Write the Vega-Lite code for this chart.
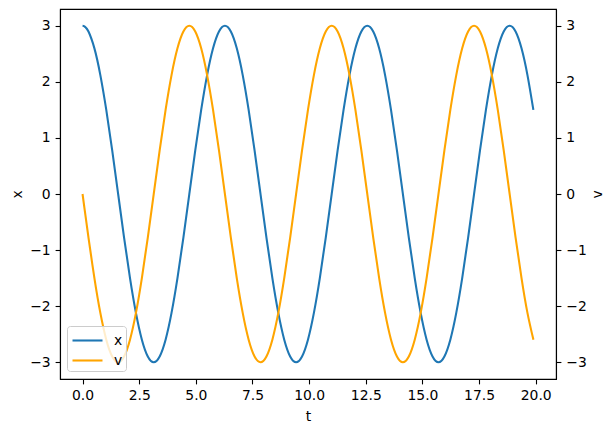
{
  "$schema": "https://vega.github.io/schema/vega-lite/v6.json",
  "description": "Position x and velocity v against time t, twin y axes",
  "width": 496,
  "height": 370,
  "autosize": {"type": "none"},
  "padding": {"left": 60, "top": 9, "right": 59, "bottom": 53},
  "config": {
    "font": "DejaVu Sans",
    "view": {"stroke": "black", "strokeWidth": 1.1},
    "axis": {
      "grid": false,
      "domainColor": "black",
      "domainWidth": 1.1,
      "tickColor": "black",
      "tickWidth": 1.1,
      "tickSize": 4.9,
      "labelPadding": 4.9,
      "labelFontSize": 13.9,
      "labelColor": "black",
      "titleFontSize": 13.9,
      "titleFontWeight": "normal",
      "titleColor": "black",
      "titlePadding": 5.6
    }
  },
  "data": {
    "values": [
      {"t": 0, "x": 3, "v": 0},
      {"t": 0.0654, "x": 2.9936, "v": -0.1962},
      {"t": 0.1309, "x": 2.9743, "v": -0.3916},
      {"t": 0.2618, "x": 2.8978, "v": -0.7765},
      {"t": 0.5236, "x": 2.5981, "v": -1.5},
      {"t": 0.7854, "x": 2.1213, "v": -2.1213},
      {"t": 1.0472, "x": 1.5, "v": -2.5981},
      {"t": 1.309, "x": 0.7765, "v": -2.8978},
      {"t": 1.5708, "x": 0, "v": -3},
      {"t": 1.8326, "x": -0.7765, "v": -2.8978},
      {"t": 2.0944, "x": -1.5, "v": -2.5981},
      {"t": 2.3562, "x": -2.1213, "v": -2.1213},
      {"t": 2.618, "x": -2.5981, "v": -1.5},
      {"t": 2.8798, "x": -2.8978, "v": -0.7765},
      {"t": 3.1416, "x": -3, "v": 0},
      {"t": 3.4034, "x": -2.8978, "v": 0.7765},
      {"t": 3.6652, "x": -2.5981, "v": 1.5},
      {"t": 3.927, "x": -2.1213, "v": 2.1213},
      {"t": 4.1888, "x": -1.5, "v": 2.5981},
      {"t": 4.4506, "x": -0.7765, "v": 2.8978},
      {"t": 4.7124, "x": 0, "v": 3},
      {"t": 4.9742, "x": 0.7765, "v": 2.8978},
      {"t": 5.236, "x": 1.5, "v": 2.5981},
      {"t": 5.4978, "x": 2.1213, "v": 2.1213},
      {"t": 5.7596, "x": 2.5981, "v": 1.5},
      {"t": 6.0214, "x": 2.8978, "v": 0.7765},
      {"t": 6.2832, "x": 3, "v": 0},
      {"t": 6.545, "x": 2.8978, "v": -0.7765},
      {"t": 6.8068, "x": 2.5981, "v": -1.5},
      {"t": 7.0686, "x": 2.1213, "v": -2.1213},
      {"t": 7.3304, "x": 1.5, "v": -2.5981},
      {"t": 7.5922, "x": 0.7765, "v": -2.8978},
      {"t": 7.854, "x": 0, "v": -3},
      {"t": 8.1158, "x": -0.7765, "v": -2.8978},
      {"t": 8.3776, "x": -1.5, "v": -2.5981},
      {"t": 8.6394, "x": -2.1213, "v": -2.1213},
      {"t": 8.9012, "x": -2.5981, "v": -1.5},
      {"t": 9.163, "x": -2.8978, "v": -0.7765},
      {"t": 9.4248, "x": -3, "v": 0},
      {"t": 9.6866, "x": -2.8978, "v": 0.7765},
      {"t": 9.9484, "x": -2.5981, "v": 1.5},
      {"t": 10.2102, "x": -2.1213, "v": 2.1213},
      {"t": 10.472, "x": -1.5, "v": 2.5981},
      {"t": 10.7338, "x": -0.7765, "v": 2.8978},
      {"t": 10.9956, "x": 0, "v": 3},
      {"t": 11.2574, "x": 0.7765, "v": 2.8978},
      {"t": 11.5192, "x": 1.5, "v": 2.5981},
      {"t": 11.781, "x": 2.1213, "v": 2.1213},
      {"t": 12.0428, "x": 2.5981, "v": 1.5},
      {"t": 12.3046, "x": 2.8978, "v": 0.7765},
      {"t": 12.5664, "x": 3, "v": 0},
      {"t": 12.8282, "x": 2.8978, "v": -0.7765},
      {"t": 13.09, "x": 2.5981, "v": -1.5},
      {"t": 13.3518, "x": 2.1213, "v": -2.1213},
      {"t": 13.6136, "x": 1.5, "v": -2.5981},
      {"t": 13.8754, "x": 0.7765, "v": -2.8978},
      {"t": 14.1372, "x": 0, "v": -3},
      {"t": 14.399, "x": -0.7765, "v": -2.8978},
      {"t": 14.6608, "x": -1.5, "v": -2.5981},
      {"t": 14.9226, "x": -2.1213, "v": -2.1213},
      {"t": 15.1844, "x": -2.5981, "v": -1.5},
      {"t": 15.4462, "x": -2.8978, "v": -0.7765},
      {"t": 15.708, "x": -3, "v": 0},
      {"t": 15.9698, "x": -2.8978, "v": 0.7765},
      {"t": 16.2316, "x": -2.5981, "v": 1.5},
      {"t": 16.4934, "x": -2.1213, "v": 2.1213},
      {"t": 16.7552, "x": -1.5, "v": 2.5981},
      {"t": 17.017, "x": -0.7765, "v": 2.8978},
      {"t": 17.2788, "x": 0, "v": 3},
      {"t": 17.5406, "x": 0.7765, "v": 2.8978},
      {"t": 17.8024, "x": 1.5, "v": 2.5981},
      {"t": 18.0642, "x": 2.1213, "v": 2.1213},
      {"t": 18.326, "x": 2.5981, "v": 1.5},
      {"t": 18.5878, "x": 2.8978, "v": 0.7765},
      {"t": 18.8496, "x": 3, "v": 0},
      {"t": 19.1114, "x": 2.8978, "v": -0.7765},
      {"t": 19.3732, "x": 2.5981, "v": -1.5},
      {"t": 19.635, "x": 2.1213, "v": -2.1213},
      {"t": 19.8968, "x": 1.5, "v": -2.5981}
    ]
  },
  "encoding": {
    "x": {
      "field": "t",
      "type": "quantitative",
      "title": "t",
      "scale": {"domain": [-0.995, 20.895], "nice": false, "zero": false},
      "axis": {"values": [0, 2.5, 5, 7.5, 10, 12.5, 15, 17.5, 20], "format": ".1f", "titlePadding": 7}
    }
  },
  "layer": [
    {
      "mark": {"type": "line", "strokeWidth": 2.08, "interpolate": "natural", "clip": true},
      "encoding": {
        "y": {
          "field": "x",
          "type": "quantitative",
          "title": "x",
          "scale": {"domain": [-3.3, 3.3], "nice": false, "zero": false},
          "axis": {"orient": "left", "values": [-3, -2, -1, 0, 1, 2, 3]}
        },
        "color": {
          "datum": "x",
          "type": "nominal",
          "scale": {"domain": ["x", "v"], "range": ["#1f77b4", "#ffa500"]},
          "legend": {
            "title": null,
            "orient": "none",
            "legendX": 7,
            "legendY": 317,
            "padding": 3,
            "fillColor": "rgba(255,255,255,0.8)",
            "strokeColor": "#cccccc",
            "cornerRadius": 3,
            "symbolType": "M-1.5,0H1.5",
            "symbolSize": 400,
            "symbolStrokeWidth": 2.08,
            "symbolFillColor": "transparent",
            "symbolOffset": 6,
            "labelOffset": 15,
            "labelFontSize": 13.9,
            "labelColor": "black",
            "rowPadding": 1
          }
        }
      }
    },
    {
      "mark": {"type": "line", "strokeWidth": 2.08, "interpolate": "natural", "clip": true},
      "encoding": {
        "y": {
          "field": "v",
          "type": "quantitative",
          "title": "v",
          "scale": {"domain": [-3.3, 3.3], "nice": false, "zero": false},
          "axis": {"orient": "right", "values": [-3, -2, -1, 0, 1, 2, 3], "titleAngle": 270, "titlePadding": 18}
        },
        "color": {"datum": "v", "type": "nominal"}
      }
    }
  ],
  "resolve": {"scale": {"y": "independent"}}
}
